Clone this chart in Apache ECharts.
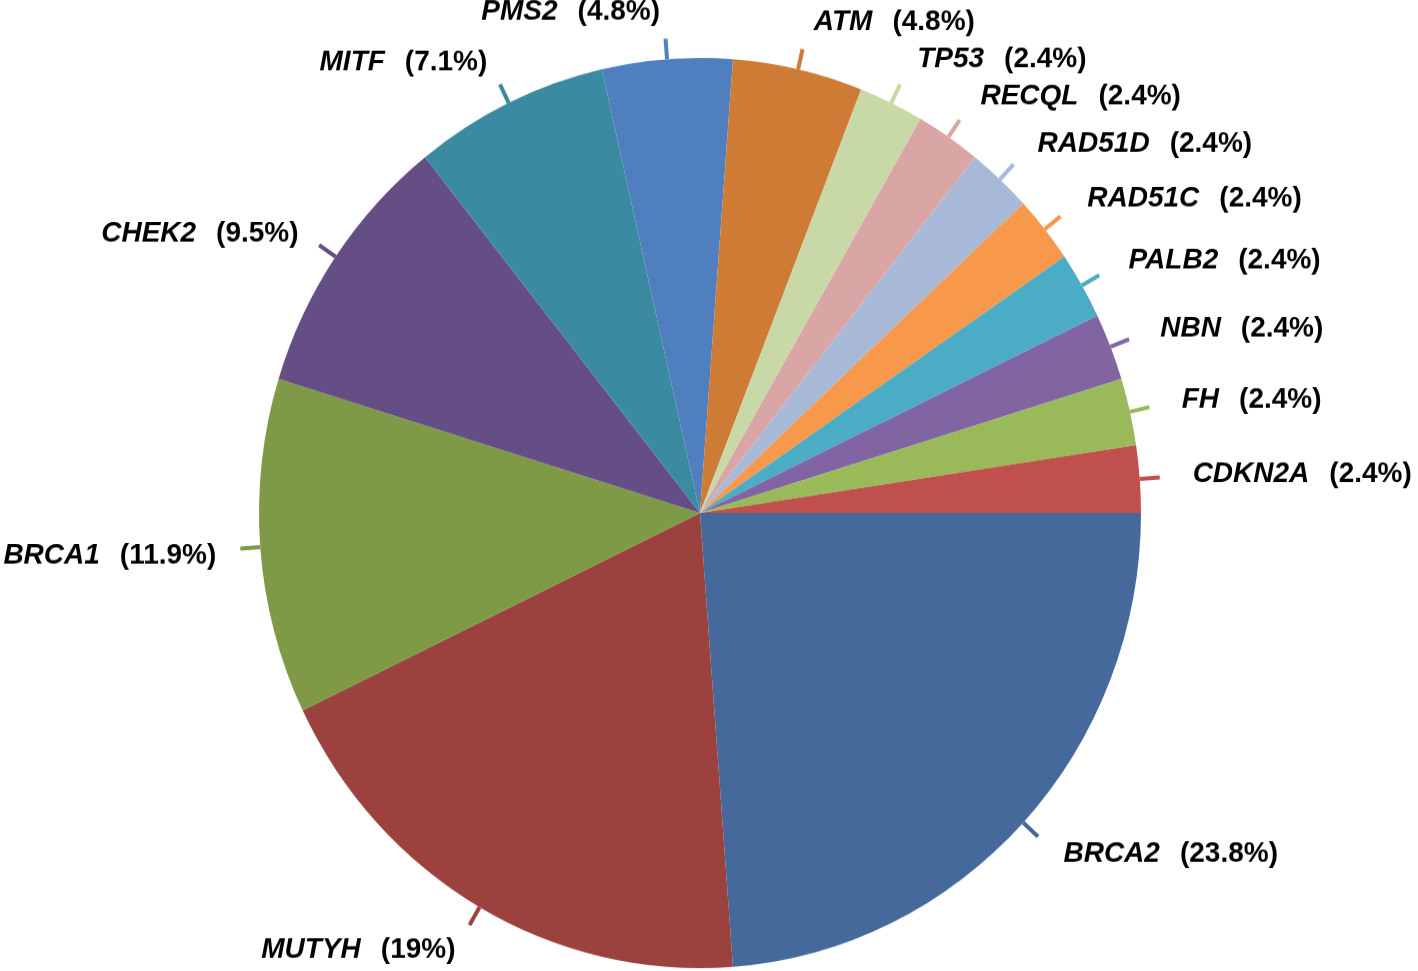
<!DOCTYPE html>
<html><head><meta charset="utf-8">
<script src="https://cdn.jsdelivr.net/npm/echarts@6/dist/echarts.min.js"></script>
<style>html,body{margin:0;padding:0;background:#fff;overflow:hidden}#c{width:1418px;height:971px;transform:scaleY(1.032);transform-origin:700px 513px}</style>
</head><body><div id="c"></div>
<script>
const genes = ['BRCA2','MUTYH','BRCA1','CHEK2','MITF','PMS2','ATM','TP53','RECQL','RAD51D','RAD51C','PALB2','NBN','FH','CDKN2A'];
const counts = [10,8,5,4,3,2,2,1,1,1,1,1,1,1,1];
const colors = ['#44699A','#9B423F','#7F9A47','#654E86','#3A8BA1','#4F7FBE','#CD7B35','#C9D8A7','#D9A6A5','#A8B9D8','#F7984A','#4BACC6','#8165A3','#9ABA59','#C0504D'];
const total = counts.reduce((a,b)=>a+b,0);
function pctText(v){
  const p = Math.round(v/total*1000)/10;
  return (Number.isInteger(p) ? p.toFixed(0) : p.toFixed(1)) + '%';
}
const chart = echarts.init(document.getElementById('c'), null, {renderer:'canvas'});
chart.setOption({
  animation:false,
  color: colors,
  series:[{
    type:'pie', center:[700,513], radius:441, startAngle:0, clockwise:true,
    avoidLabelOverlap:false,
    data: genes.map((g,i)=>({name:g, value:counts[i]})),
    itemStyle:{borderWidth:0},
    label:{show:true, position:'outside', distanceToLabelLine:0,
      formatter: p => '{n|'+p.name+'}{p|('+pctText(p.value)+')}',
      rich:{
        n:{fontFamily:'Liberation Sans', fontWeight:'bold', fontStyle:'italic', fontSize:28, color:'#000'},
        p:{fontFamily:'Liberation Sans', fontWeight:'bold', fontSize:28, color:'#000', padding:[0,0,0,20]}
      }
    },
    labelLine:{show:true, length:20, length2:0, smooth:false, lineStyle:{width:4}},
    labelLayout: function(params){
      const pts = params.labelLinePoints;
      if (!pts) return {};
      const ux = pts[1][0]-pts[0][0], uy = pts[1][1]-pts[0][1];
      const L = Math.hypot(ux,uy) || 1;
      const c = ux/L, s = uy/L;
      if (c < 0) {
        return { dx: 20*c - 4, dy: 26*s - 1 + 6*Math.abs(c), labelLinePoints: pts };
      }
      return { dx: 28*c + 5, dy: 26*s - 1, labelLinePoints: pts };
    },
    emphasis:{disabled:true}
  }]
});
</script></body></html>
